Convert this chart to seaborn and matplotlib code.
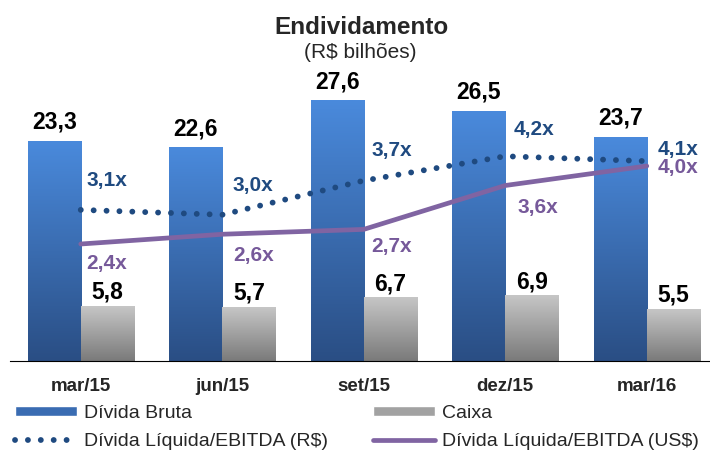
import numpy as np
import pandas as pd
import seaborn as sns
import matplotlib.pyplot as plt
from matplotlib.colors import LinearSegmentedColormap
from matplotlib.patches import Patch
from matplotlib.lines import Line2D

# Valores
periodos = ["mar/15", "jun/15", "set/15", "dez/15", "mar/16"]
divida_bruta = [23.3, 22.6, 27.6, 26.5, 23.7]
caixa = [5.8, 5.7, 6.7, 6.9, 5.5]
alav_reais = [3.1, 3.0, 3.7, 4.2, 4.1]
alav_dolar = [2.4, 2.6, 2.7, 3.6, 4.0]

series = ["Dívida Bruta", "Caixa"]
nome_reais = "Dívida Líquida/EBITDA (R$)"
nome_dolar = "Dívida Líquida/EBITDA (US$)"

cor_reais = "#1F4A80"
cor_dolar = "#8064A2"
cor_txt_dolar = "#76599A"

# offsets dos rótulos das linhas (em pixels, relativos ao ponto)
off_reais = [(26, -29), (31, -29), (28, -30), (29, -27), (31, -12)]
off_dolar = [(26, 20), (31, 21), (28, 17), (33, 22), (31, 2)]

def fmt(v, suf=""):
    return f"{v:.1f}{suf}".replace(".", ",")

sns.set_style("white")
plt.rcParams["font.family"] = ["Liberation Sans", "DejaVu Sans"]
plt.rcParams["lines.dash_capstyle"] = "round"
plt.rcParams["lines.solid_capstyle"] = "round"

df = pd.DataFrame({
    "periodo": periodos * 2,
    "serie": [series[0]] * len(periodos) + [series[1]] * len(periodos),
    "valor": divida_bruta + caixa,
})

fig = plt.figure(figsize=(7.1, 4.5), dpi=100)
ax = fig.add_axes([10 / 710, 89 / 450, 707.5 / 710, 283 / 450])

sns.barplot(data=df, x="periodo", y="valor", hue="serie", order=periodos,
            hue_order=series, width=0.75, gap=0, errorbar=None, legend=False, ax=ax)

# Gradiente vertical nas barras
cmap_azul = LinearSegmentedColormap.from_list("azul", ["#2A4E84", "#4A8ADC"])
cmap_cinza = LinearSegmentedColormap.from_list("cinza", ["#7A7A7A", "#C6C6C6"])
grad = np.linspace(0, 1, 256).reshape(-1, 1)
for container, cmap in zip(ax.containers, [cmap_azul, cmap_cinza]):
    for bar in container:
        x0, w, h = bar.get_x(), bar.get_width(), bar.get_height()
        ax.imshow(grad, extent=(x0, x0 + w, 0, h), origin="lower", aspect="auto",
                  cmap=cmap, zorder=2)
        bar.set_visible(False)

# Rótulos das barras
for container, vals, pad in zip(ax.containers, [divida_bruta, caixa], [5.5, 2]):
    ax.bar_label(container, labels=[fmt(v) for v in vals], padding=pad,
                 fontsize=16.5, fontweight="bold", color="black")

ax.set_xlim(-0.5, len(periodos) - 0.5)
ax.set_ylim(0, 30)
ax.set_xticks(range(len(periodos)))
ax.set_xticklabels(periodos, fontsize=13.5, fontweight="bold")
ax.set_xticks(np.arange(-0.5, len(periodos), 1), minor=True)
ax.tick_params(axis="x", which="major", length=0, pad=12)
ax.tick_params(axis="x", which="minor", length=3.6, width=0.8, direction="out", color="#333333")
ax.set_yticks([])
ax.set_xlabel("")
ax.set_ylabel("")
for s in ["left", "top", "right"]:
    ax.spines[s].set_visible(False)
ax.spines["bottom"].set_linewidth(0.8)
ax.spines["bottom"].set_color("black")

# Linhas de alavancagem no eixo secundário
ax2 = ax.twinx()
pos = np.arange(len(periodos))
sns.lineplot(x=pos, y=alav_dolar, ax=ax2, color=cor_dolar, linewidth=3.4, legend=False)
sns.lineplot(x=pos, y=alav_reais, ax=ax2, color=cor_reais, linewidth=4.2,
             linestyle=(0, (0.01, 2.2)), legend=False)
ax2.set_ylim(0, 283 / 48.75)
ax2.set_xlim(-0.5, len(periodos) - 0.5)
ax2.set_yticks([])
ax2.set_ylabel("")
for s in ax2.spines.values():
    s.set_visible(False)

for i, v in enumerate(alav_reais):
    dx, dy = off_reais[i]
    ax2.annotate(fmt(v, "x"), (i, v), xytext=(dx * 0.72, -dy * 0.72), textcoords="offset points",
                 ha="center", va="center", fontsize=15, fontweight="bold", color=cor_reais)
for i, v in enumerate(alav_dolar):
    dx, dy = off_dolar[i]
    ax2.annotate(fmt(v, "x"), (i, v), xytext=(dx * 0.72, -dy * 0.72), textcoords="offset points",
                 ha="center", va="center", fontsize=15, fontweight="bold", color=cor_txt_dolar)

# Título
fig.text(361 / 710, 1 - 27 / 450, "Endividamento", ha="center", va="center",
         fontsize=17.5, fontweight="bold")
fig.text(360 / 710, 1 - 53 / 450, "(R$ bilhões)", ha="center", va="center", fontsize=15)

# Legenda
handles = [
    Patch(facecolor="#3A6CB2", label=series[0]),
    Line2D([], [], color=cor_reais, linewidth=4.2, linestyle=(0, (0.01, 2.2)), label=nome_reais),
    Patch(facecolor="#A2A2A2", label=series[1]),
    Line2D([], [], color=cor_dolar, linewidth=3.4, label=nome_dolar),
]
fig.legend(handles=handles, ncol=2, loc="upper left", bbox_to_anchor=(15 / 710, 1 - 405 / 450),
           frameon=False, fontsize=14, handlelength=3.2, handleheight=0.42, handletextpad=0.36,
           columnspacing=2.3, labelspacing=0.58, borderpad=0, borderaxespad=0)

fig.savefig("out.png", dpi=100)
